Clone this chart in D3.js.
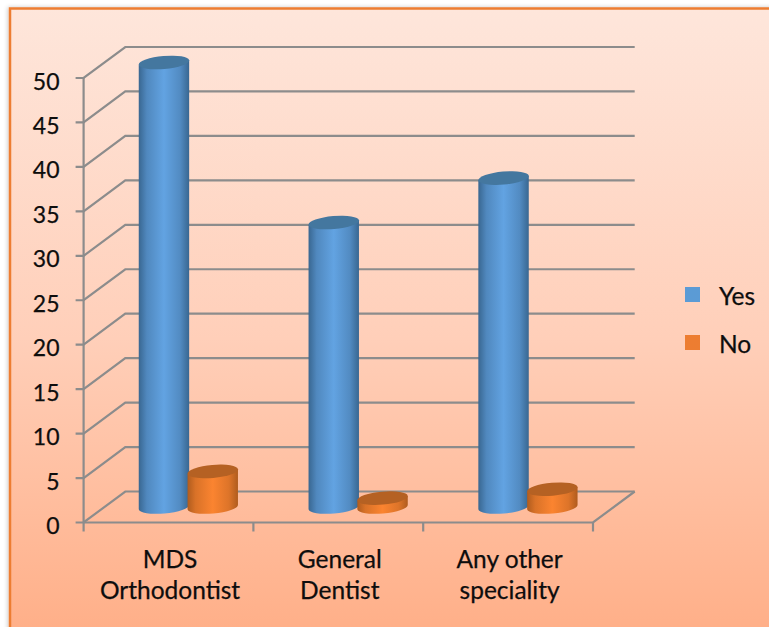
<!DOCTYPE html>
<html>
<head>
<meta charset="utf-8">
<script src="https://cdn.jsdelivr.net/npm/d3@7/dist/d3.min.js"></script>
<style>
  html, body { margin: 0; padding: 0; background: #fff; }
  svg { display: block; }
  text { font-family: Lato, "Open Sans", sans-serif; fill: #0d0d0d; stroke: #0d0d0d; stroke-width: 0.25px; }
</style>
</head>
<body>
<div id="chart"></div>
<script>
// Chart values
const categories = [["MDS", "Orthodontist"], ["General", "Dentist"], ["Any other", "speciality"]];
const seriesNames = ["Yes", "No"];
const yesValues = [50, 32, 37];
const noValues = [4, 1, 2];
const yTicks = [0, 5, 10, 15, 20, 25, 30, 35, 40, 45, 50];

const width = 769, height = 627;
const svg = d3.select("#chart").append("svg").attr("width", width).attr("height", height);
const defs = svg.append("defs");

// Oblique projection of the 3D box: the back wall is shifted by depth
const depthX = 41.7, depthY = -31;
const x = d3.scaleBand().domain(d3.range(categories.length)).range([83.6, 593]);
const xInner = d3.scaleBand().domain(seriesNames).range([-24.4 - 24.4, 24.4 + 24.4]);
const y = d3.scaleLinear().domain([0, 50]).range([522.5, 78]);

// Panel background
const bg = defs.append("linearGradient").attr("id", "panelFill")
  .attr("x1", 0).attr("y1", 0).attr("x2", 0).attr("y2", 1);
bg.append("stop").attr("offset", 0).attr("stop-color", "#fee6db");
bg.append("stop").attr("offset", 0.5).attr("stop-color", "#ffcfb9");
bg.append("stop").attr("offset", 1).attr("stop-color", "#ffab82");

const shadow = defs.append("filter").attr("id", "panelShadow")
  .attr("x", "-5%").attr("y", "-5%").attr("width", "110%").attr("height", "110%");
shadow.append("feDropShadow").attr("dx", -1).attr("dy", 0).attr("stdDeviation", 2)
  .attr("flood-color", "#000").attr("flood-opacity", 0.22);

svg.append("rect").attr("x", 10).attr("y", 8.5)
  .attr("width", 800).attr("height", 660)
  .attr("fill", "url(#panelFill)").attr("stroke", "#ed7d31").attr("stroke-width", 2.5)
  .attr("filter", "url(#panelShadow)");

// Cylinder shading
function sideGradient(id, edge, mid) {
  const g = defs.append("linearGradient").attr("id", id)
    .attr("x1", 0).attr("y1", 0).attr("x2", 1).attr("y2", 0);
  [[0, edge], [0.16, d3.interpolateRgb(edge, mid)(0.55)], [0.5, mid],
   [0.82, d3.interpolateRgb(edge, mid)(0.6)], [1, edge]].forEach(([o, c]) =>
    g.append("stop").attr("offset", o).attr("stop-color", c));
}
sideGradient("sideYes", "#396791", "#62a3e2");
sideGradient("sideNo", "#b05c1e", "#fb8430");
const topFill = { Yes: "#44779f", No: "#b56123" };
const sideFill = { Yes: "url(#sideYes)", No: "url(#sideNo)" };

// Walls and floor
const gridColor = "#8c8c8c";
const grid = svg.append("g").attr("fill", "none")
  .attr("stroke", gridColor).attr("stroke-width", 2.2);

grid.selectAll("path.wall").data(yTicks).join("path").attr("class", "wall")
  .attr("d", t => {
    const p = d3.path();
    p.moveTo(x.range()[0] - 8, y(t));
    p.lineTo(x.range()[0], y(t));
    p.lineTo(x.range()[0] + depthX, y(t) + depthY);
    p.lineTo(x.range()[1] + depthX, y(t) + depthY);
    return p.toString();
  });

grid.append("line")
  .attr("x1", x.range()[0]).attr("x2", x.range()[0])
  .attr("y1", y(50)).attr("y2", y(0));

const floorEdge = d3.path();
floorEdge.moveTo(x.range()[0], y(0));
floorEdge.lineTo(x.range()[1], y(0));
floorEdge.lineTo(x.range()[1] + depthX, y(0) + depthY);
grid.append("path").attr("d", floorEdge.toString());

const xTickPositions = categories.map((c, i) => x(i)).concat([x.range()[1]]);
grid.selectAll("line.xtick").data(xTickPositions).join("line").attr("class", "xtick")
  .attr("x1", d => d).attr("x2", d => d)
  .attr("y1", y(0)).attr("y2", y(0) + 9);

// Cylinders
const rx = 25.3, ry = 6.5, tilt = -5;
const rad = tilt * Math.PI / 180;
const endX = rx * Math.cos(rad), endY = rx * Math.sin(rad);

const rows = seriesNames.flatMap((name, s) =>
  (s === 0 ? yesValues : noValues).map((v, i) => ({ name, v, i })));

const bars = svg.append("g").selectAll("g").data(rows).join("g");

function barGeom(d) {
  const cx = x(d.i) + x.bandwidth() / 2 + depthX / 2 + xInner(d.name) + xInner.bandwidth() / 2 - 1;
  const base = y(0) + depthY / 2;
  const top = base - (y(0) - y(d.v));
  return { cx, base, top };
}

bars.append("path")
  .attr("fill", d => sideFill[d.name])
  .attr("d", d => {
    const { cx, base, top } = barGeom(d);
    return `M${cx - endX},${top - endY}L${cx - endX},${base - endY}` +
      `A${rx},${ry} ${tilt} 0 0 ${cx + endX},${base + endY}` +
      `L${cx + endX},${top + endY}Z`;
  });

bars.append("ellipse")
  .attr("fill", d => topFill[d.name])
  .attr("rx", rx).attr("ry", ry)
  .attr("transform", d => {
    const { cx, top } = barGeom(d);
    return `translate(${cx},${top}) rotate(${tilt})`;
  });

// Value axis labels
svg.append("g").selectAll("text").data(yTicks).join("text")
  .attr("x", 59.5).attr("y", d => y(d) + 11.5)
  .attr("text-anchor", "end").attr("font-size", 23)
  .text(d => d);

// Category labels
const catLabels = svg.append("g").selectAll("text").data(categories).join("text")
  .attr("text-anchor", "middle").attr("font-size", 24.5)
  .attr("transform", (d, i) => `translate(${x(i) + x.bandwidth() / 2 + 1.5},0)`);
catLabels.selectAll("tspan").data(d => d).join("tspan")
  .attr("x", 0).attr("y", (d, j) => 568 + j * 30.5)
  .text(d => d);

// Legend
const legendColors = { Yes: "#5b9bd5", No: "#ed7d31" };
const legendY = d3.scalePoint().domain(seriesNames).range([287, 335]);
const legend = svg.append("g").selectAll("g").data(seriesNames).join("g");
legend.append("rect").attr("x", 685).attr("y", d => legendY(d))
  .attr("width", 15).attr("height", 15).attr("fill", d => legendColors[d]);
legend.append("text").attr("x", 719).attr("y", d => legendY(d) + 17.5)
  .attr("font-size", 24.5).text(d => d);
</script>
</body>
</html>
